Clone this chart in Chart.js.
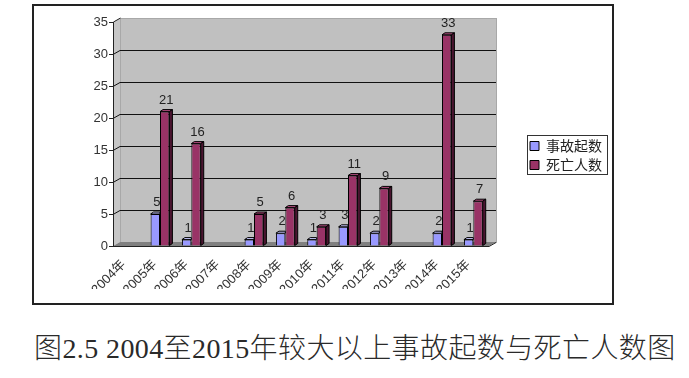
<html>

<head>
    <meta charset="utf-8">
    <title>事故起数与死亡人数</title>
    <script src="https://cdn.jsdelivr.net/npm/chart.js"></script>
    <style>
        body { margin: 0; background: #fff; width: 689px; height: 378px; overflow: hidden; }
        #frame { position: absolute; left: 32px; top: 4px; width: 578px; height: 297px; border: 2px solid #222; }
        #caption {
            position: absolute; left: 34px; top: 332px; white-space: nowrap;
            font-family: "Liberation Serif", "Noto Sans CJK SC"; font-size: 28px; font-weight: 300;
            letter-spacing: 0.4px; line-height: 34px; color: #2a2a2a;
        }
    </style>
</head>

<body>
    <div id="frame"><canvas id="chart" width="578" height="297"></canvas></div>
    <div id="caption">图2.5 2004至2015年较大以上事故起数与死亡人数图</div>
    <script>
        const years = ['2004年', '2005年', '2006年', '2007年', '2008年', '2009年',
            '2010年', '2011年', '2012年', '2013年', '2014年', '2015年']
        const accidents = [null, 5, 1, null, 1, 2, 1, 3, 2, null, 2, 1]
        const deaths = [null, 21, 16, null, 5, 6, 3, 11, 9, null, 33, 7]
        const yMax = 35
        const yStep = 5

        const BLUE = '#9999ff'
        const RED = '#993366'

        // depth of the walls / floor and of the bars
        const wallDX = 7, wallDY = 4
        const barDX = 3, barDY = 2

        // ========= 3D-looking back wall, left wall and floor ==========
        const walls = {
            id: 'walls',
            beforeDraw(chart) {
                const { ctx, chartArea: a } = chart
                const ys = chart.scales.y
                const L = a.left, R = a.right, B = a.bottom, T = ys.getPixelForValue(yMax)
                ctx.save()
                // back wall
                ctx.fillStyle = '#c0c0c0'
                ctx.fillRect(L + wallDX, T - wallDY, R - L, B - T)
                ctx.strokeStyle = '#a8a8a8'
                ctx.lineWidth = 1
                ctx.strokeRect(L + wallDX + 0.5, T - wallDY + 0.5, R - L, B - T)
                // left wall
                ctx.fillStyle = '#c6c6c6'
                ctx.beginPath()
                ctx.moveTo(L, T); ctx.lineTo(L + wallDX, T - wallDY)
                ctx.lineTo(L + wallDX, B - wallDY); ctx.lineTo(L, B); ctx.closePath()
                ctx.fill()
                // floor
                ctx.fillStyle = '#808080'
                ctx.beginPath()
                ctx.moveTo(L, B); ctx.lineTo(L + wallDX, B - wallDY)
                ctx.lineTo(R + wallDX, B - wallDY); ctx.lineTo(R, B); ctx.closePath()
                ctx.fill()
                // grid lines
                ctx.strokeStyle = '#111'
                ctx.beginPath()
                for (let v = yStep; v < yMax; v += yStep) {
                    const py = Math.round(ys.getPixelForValue(v)) + 0.5
                    ctx.moveTo(L, py); ctx.lineTo(L + wallDX, py - wallDY)
                    ctx.lineTo(R + wallDX, py - wallDY)
                }
                ctx.stroke()
                // axis edges
                ctx.strokeStyle = '#222'
                ctx.beginPath()
                ctx.moveTo(L + 0.5, B); ctx.lineTo(L + 0.5, T)
                ctx.lineTo(L + wallDX + 0.5, T - wallDY)
                ctx.moveTo(L, B + 0.5); ctx.lineTo(R, B + 0.5)
                ctx.lineTo(R + wallDX, B - wallDY + 0.5)
                ctx.stroke()
                ctx.restore()
            }
        }

        // ========= bar tops, sides and value labels ==========
        const bars3d = {
            id: 'bars3d',
            afterDatasetsDraw(chart) {
                const { ctx } = chart
                ctx.save()
                ctx.lineWidth = 1
                ctx.strokeStyle = '#000'
                chart.data.datasets.forEach((ds, i) => {
                    chart.getDatasetMeta(i).data.forEach((bar, j) => {
                        if (ds.data[j] == null) return
                        const { x, y, base, width } = bar.getProps(['x', 'y', 'base', 'width'], true)
                        const xl = x - width / 2, xr = x + width / 2
                        ctx.beginPath()
                        if (i === 0) {
                            // the side is hidden behind the next bar
                            ctx.fillStyle = '#c8c8ff'
                            ctx.moveTo(xl, y); ctx.lineTo(xl + barDX, y - barDY)
                            ctx.lineTo(xr, y - barDY); ctx.lineTo(xr, y)
                        } else {
                            ctx.fillStyle = '#b04a7c'
                            ctx.moveTo(xl, y); ctx.lineTo(xl + barDX, y - barDY)
                            ctx.lineTo(xr + barDX, y - barDY); ctx.lineTo(xr, y)
                        }
                        ctx.closePath(); ctx.fill(); ctx.stroke()
                        if (i === 1) {
                            ctx.fillStyle = '#4a1530'
                            ctx.beginPath()
                            ctx.moveTo(xr, y); ctx.lineTo(xr + barDX, y - barDY)
                            ctx.lineTo(xr + barDX, base - barDY); ctx.lineTo(xr, base)
                            ctx.closePath(); ctx.fill(); ctx.stroke()
                        }
                        ctx.fillStyle = '#222'
                        ctx.font = '13px "Liberation Sans", Arial'
                        ctx.textAlign = 'center'
                        ctx.textBaseline = 'bottom'
                        ctx.fillText(ds.data[j], x + barDX / 2, y - barDY - 3)
                    })
                })
                ctx.restore()
            }
        }

        // ========= box round the legend ==========
        const legendBox = {
            id: 'legendBox',
            afterDraw(chart) {
                const hb = chart.legend.legendHitBoxes
                if (!hb || !hb.length) return
                const left = Math.min(...hb.map(h => h.left)) - 3
                const top = Math.min(...hb.map(h => h.top)) - 4
                const right = Math.max(...hb.map(h => h.left + h.width)) + 5
                const bottom = Math.max(...hb.map(h => h.top + h.height)) + 2
                const { ctx } = chart
                ctx.save()
                ctx.strokeStyle = '#333'
                ctx.lineWidth = 1
                ctx.strokeRect(Math.round(left) + 0.5, Math.round(top) + 0.5,
                    Math.round(right - left), Math.round(bottom - top))
                ctx.restore()
            }
        }

        const axisFont = { family: '"Liberation Sans", "Noto Sans CJK SC"', size: 13 }

        new Chart(document.getElementById('chart'), {
            type: 'bar',
            data: {
                labels: years,
                datasets: [
                    { label: '事故起数', data: accidents, backgroundColor: BLUE, borderColor: '#000', borderWidth: 1 },
                    { label: '死亡人数', data: deaths, backgroundColor: RED, borderColor: '#000', borderWidth: 1 },
                ],
            },
            options: {
                responsive: false,
                animation: false,
                categoryPercentage: 0.6,
                barPercentage: 1.0,
                layout: { padding: { top: 16, bottom: 14, left: 0, right: 0 } },
                plugins: {
                    tooltip: { enabled: false },
                    legend: {
                        position: 'right',
                        align: 'center',
                        labels: {
                            boxWidth: 9,
                            boxHeight: 9,
                            padding: 5,
                            color: '#222',
                            font: { family: '"Noto Sans CJK SC"', size: 14 },
                        },
                    },
                },
                scales: {
                    x: {
                        grid: { display: false, drawTicks: false },
                        border: { display: false },
                        ticks: {
                            autoSkip: false, minRotation: 45, maxRotation: 45,
                            padding: 11, labelOffset: -5, color: '#333', font: axisFont,
                        },
                        afterFit(s) { s.height = 43 },
                    },
                    y: {
                        min: 0,
                        max: yMax,
                        ticks: { stepSize: yStep, padding: 1, color: '#333', font: axisFont },
                        grid: { display: true, drawOnChartArea: false, drawTicks: true, tickLength: 4, color: '#222' },
                        border: { display: false },
                        afterFit(s) { s.width = 79 },
                    },
                    gap: {
                        type: 'linear',
                        position: 'right',
                        grid: { display: false },
                        border: { display: false },
                        ticks: { display: false },
                        afterFit(s) { s.width = 36 },
                    },
                },
            },
            plugins: [walls, bars3d, legendBox],
        })
    </script>
</body>

</html>
